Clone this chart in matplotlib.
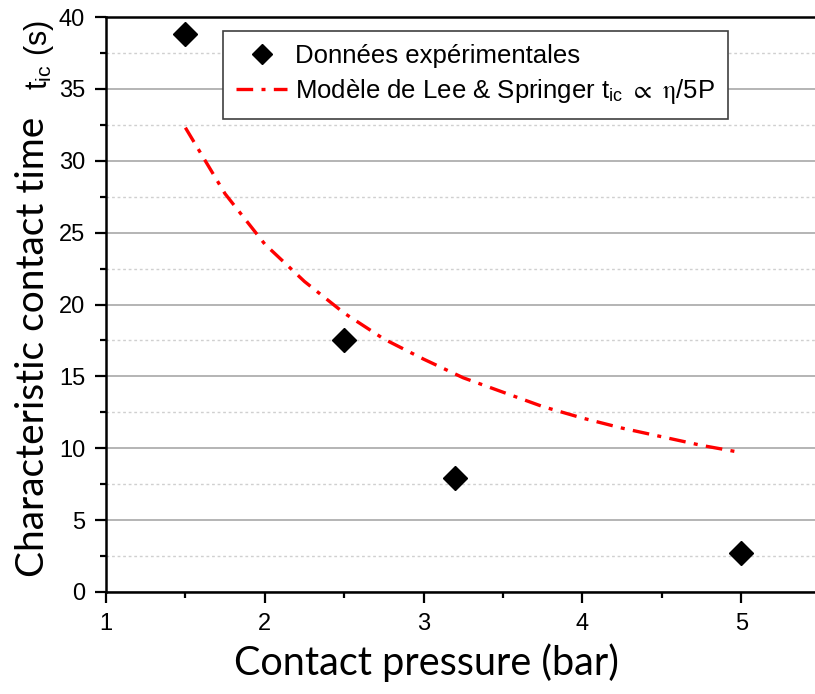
import numpy as np
import matplotlib.pyplot as plt
from matplotlib.ticker import MultipleLocator

plt.rcParams['font.family'] = ['Liberation Sans', 'DejaVu Sans']
plt.rcParams['mathtext.fontset'] = 'stix'

# experimental data
pressure = [1.5, 2.5, 3.2, 5.0]
contact_time = [38.8, 17.5, 7.9, 2.7]

# Lee & Springer model curve
model_p = [1.5, 1.75, 2.0, 2.25, 2.5, 2.75, 3.0, 3.25, 3.5, 3.75, 4.0, 4.25, 4.5, 4.75, 5.0]
model_t = [32.3, 27.7, 24.2, 21.6, 19.4, 17.6, 16.2, 14.9, 13.9, 12.9, 12.1, 11.4, 10.8, 10.2, 9.7]

xticks = [1, 2, 3, 4, 5]
yticks = [0, 5, 10, 15, 20, 25, 30, 35, 40]

fig = plt.figure(figsize=(8.15, 6.94), dpi=100)
ax = fig.add_axes([106/815, 102/694, 1 - 106/815, (592-17)/694])

ax.yaxis.grid(True, which='major', color='#a8a8a8', lw=1.2, ls='-')
ax.yaxis.grid(True, which='minor', color='#d0d0d0', lw=1.0, ls=(0, (2, 2)))
ax.set_axisbelow(True)

ax.plot(pressure, contact_time, 'D', color='black', ms=12, label='Données expérimentales')
ax.plot(model_p, model_t, color='red', lw=2.4, ls=(0, (5, 2.5, 1.2, 2.5)),
        label=r'Modèle de Lee & Springer t$_{\mathregular{ic}}$ $\propto$ $\mathrm{\eta}$/5P')

ax.set_xlim(1, 1 + (815 - 106) / 158.8)
ax.set_ylim(0, 40)
ax.set_xticks(xticks)
ax.set_yticks(yticks)
ax.xaxis.set_minor_locator(MultipleLocator(0.5))
ax.yaxis.set_minor_locator(MultipleLocator(2.5))

for s in ['left', 'bottom', 'top']:
    ax.spines[s].set_linewidth(1.8)
ax.spines['right'].set_visible(False)

ax.tick_params(which='major', direction='out', length=8, width=1.6, labelsize=17)
ax.tick_params(which='minor', direction='out', length=4.5, width=1.6)
ax.tick_params(axis='x', which='major', pad=7)
ax.tick_params(axis='y', which='major', pad=7)

leg = ax.legend(loc='upper left', bbox_to_anchor=((223-106)/709, 1 - 14/575),
                prop={'size': 18.5}, markerscale=0.85,
                frameon=True, fancybox=False, edgecolor='#404040', framealpha=1,
                handlelength=2.0, borderpad=0.5, labelspacing=0.35, handletextpad=0.3,
                borderaxespad=0)
leg.get_frame().set_linewidth(1.2)

fig.text(235/815 + 383/815/2, 1 - 663/694, 'Contact pressure (bar)', ha='center', va='center',
         family='Lato', fontsize=28.5)
fig.text(33/815, 1 - 347/694, 'Characteristic contact time', rotation=90, ha='center', va='center',
         family='Lato', fontsize=28)
fig.text(39/815, 1 - 55/694, r't$_{\mathregular{ic}}$ (s)', rotation=90, ha='center', va='center',
         fontsize=22)

fig.savefig('out.png', dpi=100)
